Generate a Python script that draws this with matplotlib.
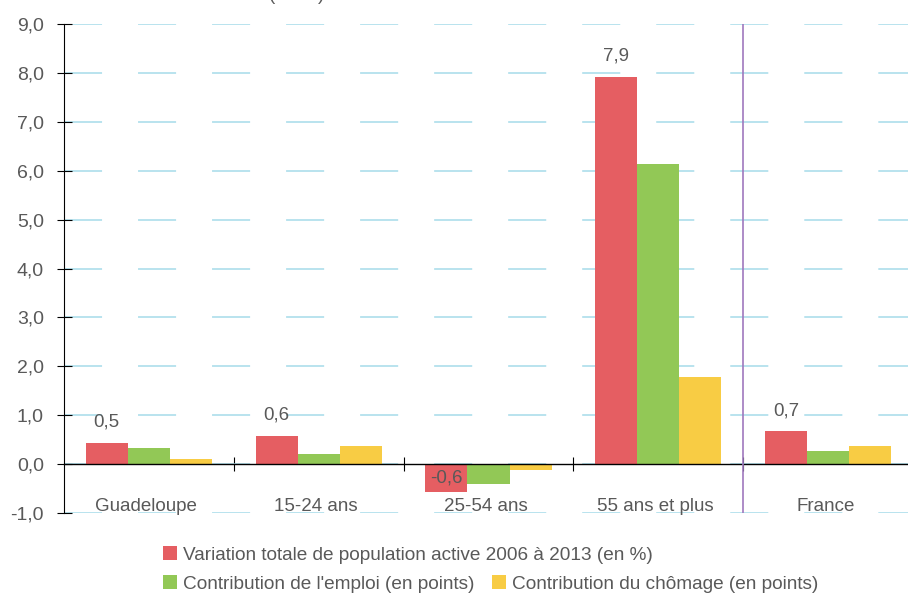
import matplotlib
matplotlib.use("Agg")
import matplotlib.pyplot as plt
from matplotlib.patches import Patch
import numpy as np

plt.rcParams['font.family'] = ['Liberation Sans', 'DejaVu Sans']
plt.rcParams['lines.scale_dashes'] = False

categories = ["Guadeloupe", "15-24 ans", "25-54 ans", "55 ans et plus", "France"]
variation_totale = [0.44, 0.57, -0.57, 7.91, 0.67]
contribution_emploi = [0.33, 0.20, -0.40, 6.13, 0.27]
contribution_chomage = [0.10, 0.37, -0.13, 1.78, 0.37]
labels_totale = ["0,5", "0,6", "-0,6", "7,9", "0,7"]
yticks = [-1, 0, 1, 2, 3, 4, 5, 6, 7, 8, 9]
ytick_labels = ["-1,0", "0,0", "1,0", "2,0", "3,0", "4,0", "5,0", "6,0", "7,0", "8,0", "9,0"]
series_names = ["Variation totale de population active 2006 à 2013 (en %)",
                "Contribution de l'emploi (en points)",
                "Contribution du chômage (en points)"]

c_red = "#e55e62"
c_green = "#92c856"
c_yellow = "#f8cc44"
c_text = "#595959"

W, H = 908, 594
fig = plt.figure(figsize=(W / 100, H / 100), dpi=100)
ax = fig.add_axes([64 / W, (H - 513) / H, (913 - 64) / W, (513 - 24) / H])

x = np.arange(len(categories))
bw = 0.248
ax.bar(x - bw, variation_totale, bw, color=c_red, zorder=3)
ax.bar(x, contribution_emploi, bw, color=c_green, zorder=3)
ax.bar(x + bw, contribution_chomage, bw, color=c_yellow, zorder=3)

ax.set_xlim(-0.5, len(categories) - 0.5)
ax.set_ylim(-1, 9)

ax.set_yticks(yticks)
ax.set_yticklabels(ytick_labels)
ax.tick_params(axis='y', direction='inout', length=10.8, width=0.8, color='black',
               labelsize=14, labelcolor=c_text, pad=9)

ax.set_xticks(x[:-1] + 0.5)
ax.set_xticklabels([])
ax.tick_params(axis='x', direction='inout', length=10, width=0.8, color='black')

for s in ['top', 'right']:
    ax.spines[s].set_visible(False)
ax.spines['left'].set_color('black')
ax.spines['left'].set_linewidth(0.8)
ax.spines['bottom'].set_position(('data', 0))
ax.spines['bottom'].set_color('black')
ax.spines['bottom'].set_linewidth(1.0)
ax.spines['bottom'].set_zorder(4)

ax.grid(axis='y', color='#a6dbe9', linestyle=(0, (27.4, 25.9)), linewidth=1.1, zorder=1)
ax.set_axisbelow(True)

ax.axvline(x[-1] - 0.5, color='#9f78bd', linewidth=1.2, zorder=5)

for i, (v, lab) in enumerate(zip(variation_totale, labels_totale)):
    off = 15 if v >= 0 else 10
    ax.annotate(lab, xy=(x[i] - bw, v), xytext=(0, off), textcoords='offset points',
                ha='center', va='center', fontsize=13.5, color=c_text, zorder=6)

for i, cat in enumerate(categories):
    ax.annotate(cat, xy=(x[i], 0), xytext=(-2, -30.5), textcoords='offset points',
                ha='center', va='center', fontsize=13.5, color=c_text)

fig.text(297 / W, 1.0, "(en %)", ha='center', va='baseline', fontsize=13.5, color=c_text)

h_red = Patch(facecolor=c_red)
h_green = Patch(facecolor=c_green)
h_yellow = Patch(facecolor=c_yellow)
leg_kw = dict(frameon=False, borderpad=0, borderaxespad=0, handlelength=0.74,
              handleheight=0.74, handletextpad=0.3, fontsize=13.7, labelcolor=c_text,
              loc='center left')
leg1 = fig.legend([h_red], [series_names[0]], bbox_to_anchor=(163 / W, 1 - 555 / H), **leg_kw)
leg2 = fig.legend([h_green, h_yellow], series_names[1:], ncol=2, columnspacing=0.95,
                  bbox_to_anchor=(163 / W, 1 - 584 / H), **leg_kw)

fig.savefig("out.png", dpi=100)
